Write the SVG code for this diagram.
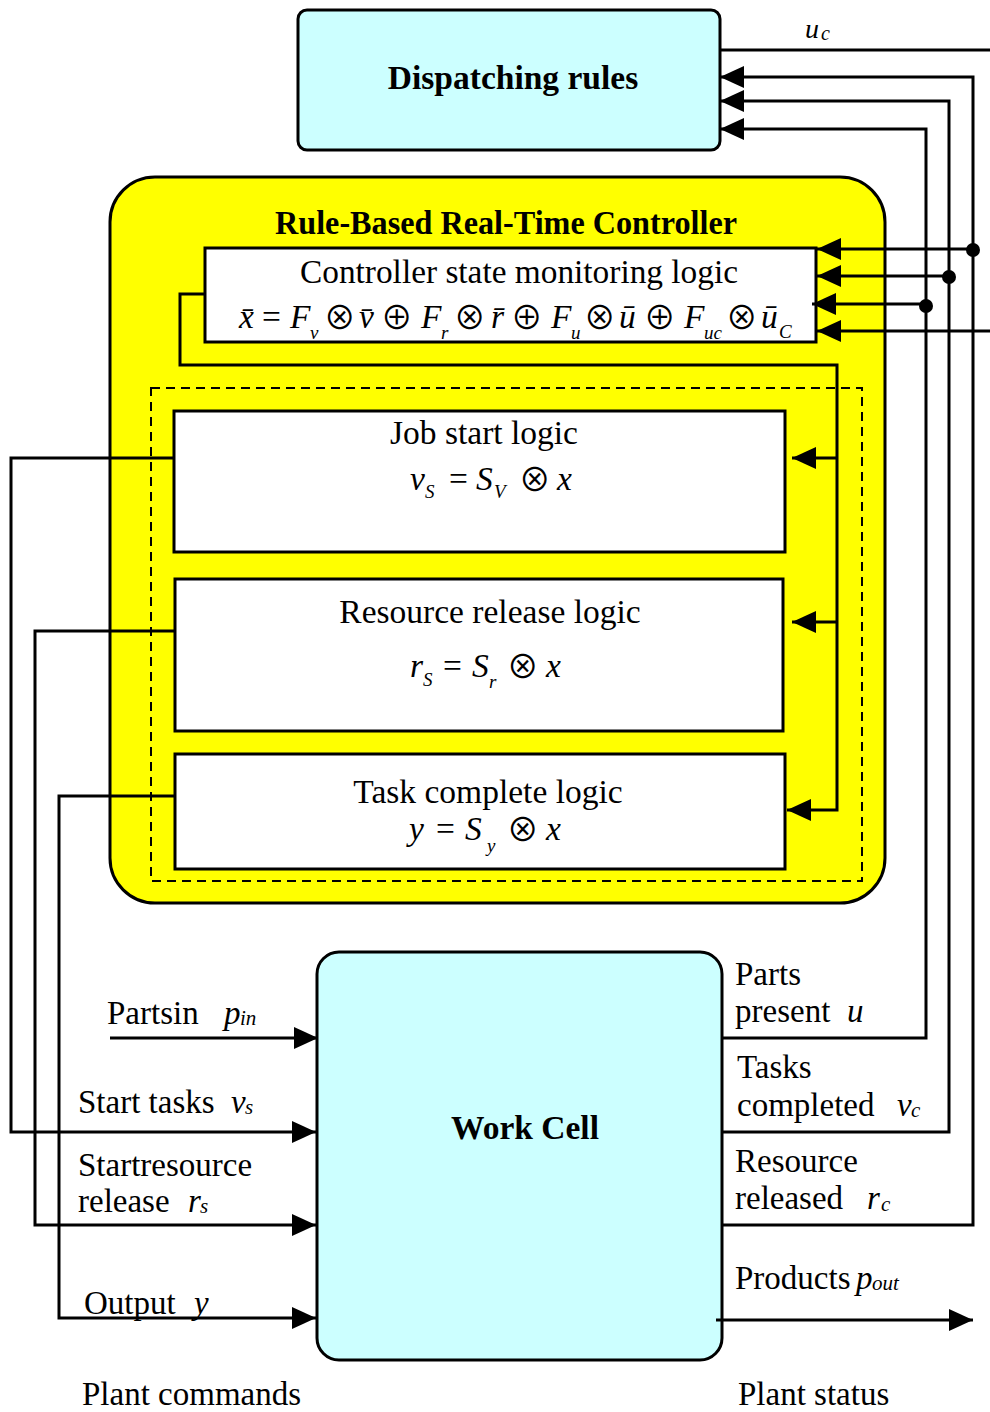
<svg xmlns="http://www.w3.org/2000/svg" width="990" height="1412" viewBox="0 0 990 1412">
  <style>
    text { font-family: "Liberation Serif", "DejaVu Serif", serif; fill: #000; }
    .t { font-size: 33.5px; }
    .b { font-size: 33.5px; font-weight: bold; }
    .lb { font-size: 33px; }
    .i { font-style: italic; }
    .sub { font-size: 19px; font-style: italic; }
    .op { font-family: "Noto Sans CJK JP", "DejaVu Serif", serif; font-size: 32px; text-anchor: middle; }
    .box { stroke: #000; stroke-width: 3; }
    .wire { fill: none; stroke: #000; stroke-width: 3; }
  </style>
  <defs>
    <marker id="arr" markerUnits="userSpaceOnUse" markerWidth="26" markerHeight="24" refX="24" refY="11" orient="auto">
      <path d="M0,0 L24,11 L0,22 z" fill="#000"/>
    </marker>
  </defs>

  <!-- Dispatching rules -->
  <g id="dispatching">
    <rect class="box" x="298" y="10" width="422" height="140" rx="9" fill="#CCFFFF"/>
    <text class="b" x="513" y="89" text-anchor="middle">Dispatching rules</text>
  </g>

  <!-- Rule-based controller container -->
  <g id="controller">
    <rect class="box" x="110" y="177" width="775" height="726" rx="45" fill="#FFFF00"/>
    <text class="b" x="506" y="234" text-anchor="middle" textLength="462" lengthAdjust="spacingAndGlyphs">Rule-Based Real-Time Controller</text>
    <rect x="151" y="388" width="711" height="493" fill="none" stroke="#000" stroke-width="2" stroke-dasharray="9,6"/>
  </g>

  <!-- Controller state monitoring logic -->
  <g id="monitoring">
    <rect class="box" x="205" y="248" width="611" height="94" fill="#FFFFFF"/>
    <text class="t" x="519" y="283" text-anchor="middle" textLength="438" lengthAdjust="spacingAndGlyphs">Controller state monitoring logic</text>
    <text class="t">
      <tspan class="i" x="239" y="328">x&#x304;</tspan>
      <tspan x="262" y="328">=</tspan>
      <tspan class="i" x="290" y="328">F</tspan><tspan class="sub" x="310" y="339">v</tspan>
      <tspan class="op" x="344" y="329">⊗</tspan>
      <tspan class="i" x="359" y="328">v&#x304;</tspan>
      <tspan class="op" x="401" y="329">⊕</tspan>
      <tspan class="i" x="421" y="328">F</tspan><tspan class="sub" x="441" y="339">r</tspan>
      <tspan class="op" x="474" y="329">⊗</tspan>
      <tspan class="i" x="491" y="328">r&#x304;</tspan>
      <tspan class="op" x="531" y="329">⊕</tspan>
      <tspan class="i" x="551" y="328">F</tspan><tspan class="sub" x="571" y="339">u</tspan>
      <tspan class="op" x="604" y="329">⊗</tspan>
      <tspan class="i" x="619" y="328">ū</tspan>
      <tspan class="op" x="664" y="329">⊕</tspan>
      <tspan class="i" x="684" y="328">F</tspan><tspan class="sub" x="704" y="339">uc</tspan>
      <tspan class="op" x="746" y="329">⊗</tspan>
      <tspan class="i" x="761" y="328">ū</tspan><tspan class="sub" x="779" y="338" font-size="21">C</tspan>
    </text>
  </g>

  <!-- Job start logic -->
  <g id="jobstart">
    <rect class="box" x="174" y="411" width="611" height="141" fill="#FFFFFF"/>
    <text class="t" x="484" y="444" text-anchor="middle">Job start logic</text>
    <text class="t">
      <tspan class="i" x="410" y="490">v</tspan><tspan class="sub" x="425" y="498" font-size="20">S</tspan>
      <tspan x="449" y="490">=</tspan>
      <tspan class="i" x="476" y="490">S</tspan><tspan class="sub" x="494" y="498" font-size="18">V</tspan>
      <tspan class="op" x="539" y="491">⊗</tspan>
      <tspan class="i" x="557" y="490">x</tspan>
    </text>
  </g>

  <!-- Resource release logic -->
  <g id="resourcerelease">
    <rect class="box" x="175" y="579" width="608" height="152" fill="#FFFFFF"/>
    <text class="t" x="490" y="623" text-anchor="middle">Resource release logic</text>
    <text class="t">
      <tspan class="i" x="410" y="677">r</tspan><tspan class="sub" x="423" y="686" font-size="20">S</tspan>
      <tspan x="443" y="677">=</tspan>
      <tspan class="i" x="472" y="677">S</tspan><tspan class="sub" x="489" y="688" font-size="18">r</tspan>
      <tspan class="op" x="527" y="678">⊗</tspan>
      <tspan class="i" x="546" y="677">x</tspan>
    </text>
  </g>

  <!-- Task complete logic -->
  <g id="taskcomplete">
    <rect class="box" x="175" y="754" width="610" height="115" fill="#FFFFFF"/>
    <text class="t" x="488" y="803" text-anchor="middle">Task complete logic</text>
    <text class="t">
      <tspan class="i" x="409" y="840">y</tspan>
      <tspan x="436" y="840">=</tspan>
      <tspan class="i" x="465" y="840">S</tspan><tspan class="sub" x="487" y="852" font-size="18">y</tspan>
      <tspan class="op" x="527" y="841">⊗</tspan>
      <tspan class="i" x="546" y="840">x</tspan>
    </text>
  </g>

  <!-- Work cell -->
  <g id="workcell">
    <rect class="box" x="317" y="952" width="405" height="408" rx="22" fill="#CCFFFF"/>
    <text class="b" x="525" y="1139" text-anchor="middle">Work Cell</text>
  </g>

  <!-- Connectors -->
  <g id="connectors">
    <!-- controller command uc to dispatching -->
    <path class="wire" d="M990,50 H720"/>
    <!-- plant status feedback to dispatching rules -->
    <path class="wire" d="M722,1225 H973 V77 H720" marker-end="url(#arr)"/>
    <path class="wire" d="M722,1132 H949 V101 H720" marker-end="url(#arr)"/>
    <path class="wire" d="M722,1038 H926 V129 H720" marker-end="url(#arr)"/>
    <!-- taps into the monitoring logic -->
    <path class="wire" d="M973,249 H817" marker-end="url(#arr)"/>
    <path class="wire" d="M949,276 H817" marker-end="url(#arr)"/>
    <path class="wire" d="M926,304 H812" marker-end="url(#arr)"/>
    <path class="wire" d="M990,331 H817" marker-end="url(#arr)"/>
    <circle cx="973" cy="250" r="7"/>
    <circle cx="949" cy="277" r="7"/>
    <circle cx="926" cy="306" r="7"/>
    <!-- state x distributed to logic blocks -->
    <path class="wire" d="M205,294 H180 V365 H837 V810 H787" marker-end="url(#arr)"/>
    <path class="wire" d="M837,458 H792" marker-end="url(#arr)"/>
    <path class="wire" d="M837,622 H792" marker-end="url(#arr)"/>
    <!-- plant commands -->
    <path class="wire" d="M174,458 H11 V1132 H316" marker-end="url(#arr)"/>
    <path class="wire" d="M175,631 H35 V1225 H316" marker-end="url(#arr)"/>
    <path class="wire" d="M175,796 H59 V1318 H316" marker-end="url(#arr)"/>
    <path class="wire" d="M110,1038 H318" marker-end="url(#arr)" stroke-width="4"/>
    <!-- products out -->
    <path class="wire" d="M716,1320 H973" marker-end="url(#arr)" stroke-width="4"/>
  </g>

  <!-- Signal labels -->
  <g id="labels">
    <text class="i" font-size="28" x="805" y="38">u</text><text class="i" font-size="20" x="821" y="40">c</text>

    <text class="lb" x="107" y="1024">Partsin</text><text class="lb i" x="224" y="1024">p</text><text class="i" font-size="21" x="240" y="1025">in</text>
    <text class="lb" x="78" y="1113">Start tasks</text><text class="lb i" x="231" y="1113">v</text><text class="i" font-size="21" x="245" y="1114">s</text>
    <text class="lb" x="78" y="1176">Startresource</text>
    <text class="lb" x="78" y="1212">release</text><text class="lb i" x="188" y="1212">r</text><text class="i" font-size="21" x="200" y="1213">s</text>
    <text class="lb" x="84" y="1314">Output</text><text class="lb i" x="194" y="1314">y</text>

    <text class="lb" x="735" y="985">Parts</text>
    <text class="lb" x="735" y="1022">present</text><text class="lb i" x="847" y="1022">u</text>
    <text class="lb" x="737" y="1078">Tasks</text>
    <text class="lb" x="737" y="1116">completed</text><text class="lb i" x="897" y="1116">v</text><text class="i" font-size="21" x="911" y="1117">c</text>
    <text class="lb" x="735" y="1172">Resource</text>
    <text class="lb" x="735" y="1209">released</text><text class="lb i" x="867" y="1209">r</text><text class="i" font-size="21" x="881" y="1211">c</text>
    <text class="lb" x="735" y="1289">Products</text><text class="lb i" x="856" y="1289">p</text><text class="i" font-size="21" x="872" y="1290">out</text>

    <text class="lb" x="82" y="1405">Plant commands</text>
    <text class="lb" x="738" y="1405">Plant status</text>
  </g>
</svg>
